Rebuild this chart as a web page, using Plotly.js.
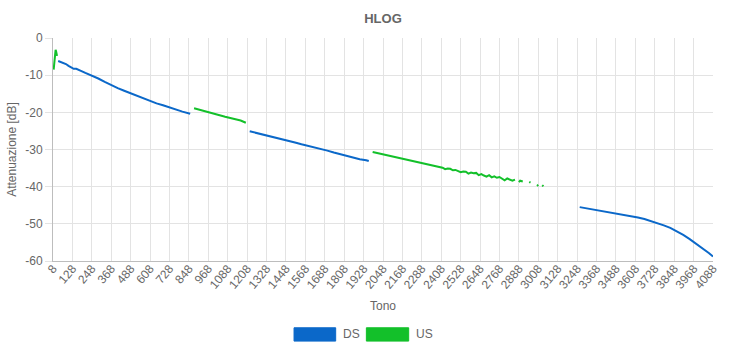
<!DOCTYPE html>
<html>
<head>
<meta charset="utf-8">
<script src="https://cdn.plot.ly/plotly-3.0.1.min.js"></script>
<style>html,body{margin:0;padding:0;background:#fff;}#chart{width:756px;height:353px;}</style>
</head>
<body>
<div id="chart"></div>
<script>
// Downstream (DS) HLOG, null marks gaps between bands
const dsTones = [40,56,72,88,104,120,136,152,168,184,208,248,288,328,368,408,448,488,528,568,608,648,688,728,768,808,856,
  864,
  1224,1264,1304,1344,1384,1424,1464,1504,1544,1584,1624,1664,1704,1744,1784,1824,1864,1904,1944,1960,
  1970,
  3264,3304,3344,3384,3424,3464,3504,3544,3584,3624,3664,3704,3744,3784,3824,3864,3904,3944,3984,4024,4064,4088];
const dsValues = [-6.2,-6.4,-6.6,-7.0,-7.5,-8.0,-8.3,-8.3,-8.5,-8.9,-9.4,-10.1,-10.9,-11.8,-12.7,-13.5,-14.2,-14.9,-15.6,-16.3,-17.0,-17.6,-18.1,-18.7,-19.2,-19.8,-20.4,
  null,
  -25.1,-25.5,-25.9,-26.3,-26.8,-27.2,-27.6,-28.1,-28.6,-29.0,-29.5,-29.9,-30.3,-30.8,-31.3,-31.8,-32.2,-32.6,-32.9,-33.1,
  null,
  -45.5,-45.8,-46.1,-46.4,-46.7,-47.0,-47.3,-47.6,-47.9,-48.3,-48.7,-49.2,-49.8,-50.4,-51.1,-52.0,-53.0,-54.1,-55.3,-56.6,-57.9,-58.8];

// Upstream (US) HLOG
const usTones = [12,16,20,24,27,30,33,
  36,
  880,912,944,976,1008,1040,1072,1104,1136,1168,1200,
  1210,
  1984,2016,2048,2080,2112,2144,2176,2208,2240,2272,2304,2336,2368,2400,2416,2432,2448,2464,2480,2496,2512,2528,2544,2560,2576,2592,2608,2624,2640,2656,2672,2688,2704,2720,2736,2752,2768,2784,2800,2816,2832,2848,2864,
  2872,2888,2896,2912,2920,2952,2960,2968,3000,3008,3016,3032,3040];
const usValues = [-8.5,-6.5,-4.5,-3.2,-3.6,-4.3,-4.8,
  null,
  -18.9,-19.3,-19.8,-20.2,-20.6,-20.9,-21.2,-21.5,-21.8,-22.2,-22.8,
  null,
  -30.7,-31.0,-31.3,-31.6,-31.9,-32.2,-32.5,-32.8,-33.1,-33.4,-33.9,-34.1,-34.4,-34.8,-34.9,-35.3,-35.1,-35.2,-35.6,-35.5,-35.7,-36.1,-35.9,-36.0,-36.5,-36.2,-36.4,-36.3,-36.9,-36.6,-37.0,-37.3,-36.9,-37.5,-37.2,-37.6,-37.4,-37.9,-38.3,-37.8,-38.0,-38.4,-38.1,
  null,-38.8,-38.4,-38.6,null,-38.7,-38.9,null,-39.8,-39.5,null,-39.6,-39.9];

const seriesNames = ['DS','US'];
const seriesColors = ['#0b68c9','#13c02a'];
const yTickValues = [0,-10,-20,-30,-40,-50,-60];

const font = "'Liberation Sans', Arial, Helvetica, sans-serif";
const grey = '#666666';

const traces = [
  {x: dsTones, y: dsValues, name: seriesNames[0], type: 'scatter', mode: 'lines',
   line: {color: seriesColors[0], width: 2}, connectgaps: false, showlegend: false},
  {x: usTones, y: usValues, name: seriesNames[1], type: 'scatter', mode: 'lines',
   line: {color: seriesColors[1], width: 2}, connectgaps: false, showlegend: false}
];

// custom legend (Chart.js-style boxes)
const lgY0 = -0.3592, lgY1 = -0.2994;
const boxes = [[0.3652,0.4283],[0.4748,0.5389]];
const labelX = [0.437,0.5465];
const shapes = boxes.map((b,i)=>({type:'rect', xref:'paper', yref:'paper', x0:b[0], x1:b[1], y0:lgY0, y1:lgY1,
  fillcolor: seriesColors[i], line:{color: seriesColors[i], width:1}}));
const annotations = seriesNames.map((n,i)=>({text:n, xref:'paper', yref:'paper', x:labelX[i], y:(lgY0+lgY1)/2,
  xanchor:'left', yanchor:'middle', showarrow:false, font:{family:font, size:12, color:grey}}));

const layout = {
  width: 756, height: 353,
  margin: {l: 53, r: 43, t: 37.5, b: 92, pad: 0},
  paper_bgcolor: '#ffffff', plot_bgcolor: '#ffffff',
  showlegend: false,
  title: {text: '<b>HLOG</b>', x: 0.5, xref: 'paper', xanchor: 'center', y: 1 - 18/353, yref: 'container', yanchor: 'middle',
          font: {family: font, size: 13, color: grey}},
  xaxis: {
    type: 'linear', range: [8, 4088], tick0: 8, dtick: 120, tickangle: -50,
    showgrid: true, gridcolor: '#e3e3e3', gridwidth: 1,
    showline: true, linecolor: '#bdbdbd', linewidth: 1,
    ticks: '', ticklabelstandoff: -5,
    zeroline: false,
    tickfont: {family: font, size: 12, color: grey},
    title: {text: 'Tono', font: {family: font, size: 12, color: grey}, standoff: 10}
  },
  yaxis: {
    range: [-60, 0], tickvals: yTickValues, ticktext: yTickValues.map(String),
    showgrid: true, gridcolor: '#e3e3e3', gridwidth: 1,
    showline: true, linecolor: '#bdbdbd', linewidth: 1,
    ticks: 'outside', ticklen: 7, tickcolor: '#e3e3e3',
    zeroline: false,
    tickfont: {family: font, size: 12, color: grey},
    title: {text: 'Attenuazione [dB]', font: {family: font, size: 12, color: grey}, standoff: 6}
  },
  shapes: shapes,
  annotations: annotations
};

Plotly.newPlot('chart', traces, layout, {displayModeBar: false, staticPlot: true});
</script>
</body>
</html>
